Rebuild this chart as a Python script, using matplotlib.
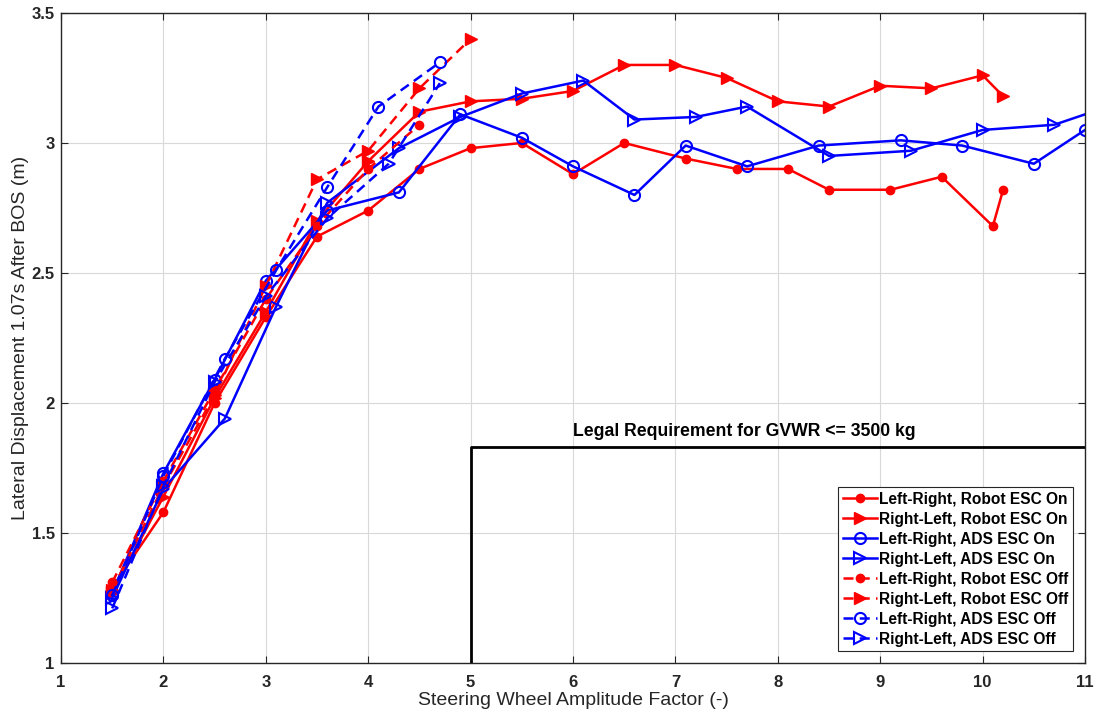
import matplotlib.pyplot as plt

plt.rcParams['font.family'] = ['Liberation Sans', 'DejaVu Sans']

# Left-Right, Robot ESC On
lr_robot_on_x = [1.5, 2.0, 2.5, 3.0, 3.5, 4.0, 4.5, 5.0, 5.5, 6.0, 6.5, 7.1, 7.6, 8.1, 8.5, 9.1, 9.6, 10.1, 10.2]
lr_robot_on_y = [1.29, 1.58, 2.00, 2.33, 2.64, 2.74, 2.90, 2.98, 3.00, 2.88, 3.00, 2.94, 2.90, 2.90, 2.82, 2.82, 2.87, 2.68, 2.82]

# Right-Left, Robot ESC On
rl_robot_on_x = [1.5, 2.0, 2.5, 3.0, 3.5, 4.0, 4.5, 5.0, 5.5, 6.0, 6.5, 7.0, 7.5, 8.0, 8.5, 9.0, 9.5, 10.0, 10.2]
rl_robot_on_y = [1.27, 1.64, 2.02, 2.35, 2.70, 2.93, 3.12, 3.16, 3.17, 3.20, 3.30, 3.30, 3.25, 3.16, 3.14, 3.22, 3.21, 3.26, 3.18]

# Left-Right, ADS ESC On
lr_ads_on_x = [1.5, 2.0, 2.5, 3.0, 3.6, 4.3, 4.9, 5.5, 6.0, 6.6, 7.1, 7.7, 8.4, 9.2, 9.8, 10.5, 11.0]
lr_ads_on_y = [1.27, 1.73, 2.09, 2.47, 2.74, 2.81, 3.11, 3.02, 2.91, 2.80, 2.99, 2.91, 2.99, 3.01, 2.99, 2.92, 3.05]

# Right-Left, ADS ESC On
rl_ads_on_x = [1.5, 2.0, 2.6, 3.1, 3.6, 4.3, 4.9, 5.5, 6.1, 6.6, 7.2, 7.7, 8.5, 9.3, 10.0, 10.7, 11.3]
rl_ads_on_y = [1.25, 1.67, 1.94, 2.37, 2.77, 2.98, 3.10, 3.19, 3.24, 3.09, 3.10, 3.14, 2.95, 2.97, 3.05, 3.07, 3.15]

# Left-Right, Robot ESC Off
lr_robot_off_x = [1.5, 2.0, 2.5, 3.0, 3.5, 4.0, 4.5]
lr_robot_off_y = [1.31, 1.70, 2.05, 2.40, 2.68, 2.90, 3.07]

# Right-Left, Robot ESC Off
rl_robot_off_x = [1.5, 2.0, 2.5, 3.0, 3.5, 4.0, 4.5, 5.0]
rl_robot_off_y = [1.28, 1.68, 2.03, 2.45, 2.86, 2.97, 3.21, 3.40]

# Left-Right, ADS ESC Off
lr_ads_off_x = [1.5, 2.0, 2.6, 3.1, 3.6, 4.1, 4.7]
lr_ads_off_y = [1.26, 1.72, 2.17, 2.51, 2.83, 3.14, 3.31]

# Right-Left, ADS ESC Off
rl_ads_off_x = [1.5, 2.0, 2.5, 3.0, 3.6, 4.2, 4.7]
rl_ads_off_y = [1.21, 1.68, 2.08, 2.41, 2.71, 2.92, 3.23]

# legal requirement boundary
legal_x = [5, 5, 11]
legal_y = [1, 1.83, 1.83]

fig = plt.figure(figsize=(10.99, 7.19), dpi=100)
ax = fig.add_axes([0.0555, 0.0779, 0.9318, 0.9041])

lw = 1.8
dash = (4, 2.5)
ax.plot(lr_robot_on_x, lr_robot_on_y, '-', color='red', lw=lw, marker='o', ms=6,
        label='Left-Right, Robot ESC On')
ax.plot(rl_robot_on_x, rl_robot_on_y, '-', color='red', lw=lw, marker='>', ms=8,
        label='Right-Left, Robot ESC On')
ax.plot(lr_ads_on_x, lr_ads_on_y, '-', color='blue', lw=lw, marker='o', ms=8, mfc='none',
        mew=1.5, label='Left-Right, ADS ESC On')
ax.plot(rl_ads_on_x, rl_ads_on_y, '-', color='blue', lw=lw, marker='>', ms=9, mfc='none',
        mew=1.5, label='Right-Left, ADS ESC On')
ax.plot(lr_robot_off_x, lr_robot_off_y, '--', dashes=dash, color='red', lw=lw, marker='o', ms=6,
        label='Left-Right, Robot ESC Off')
ax.plot(rl_robot_off_x, rl_robot_off_y, '--', dashes=dash, color='red', lw=lw, marker='>', ms=8,
        label='Right-Left, Robot ESC Off')
ax.plot(lr_ads_off_x, lr_ads_off_y, '--', dashes=dash, color='blue', lw=lw, marker='o', ms=8,
        mfc='none', mew=1.5, label='Left-Right, ADS ESC Off')
ax.plot(rl_ads_off_x, rl_ads_off_y, '--', dashes=dash, color='blue', lw=lw, marker='>', ms=9,
        mfc='none', mew=1.5, label='Right-Left, ADS ESC Off')

ax.plot(legal_x, legal_y, '-', color='black', lw=2, zorder=1)
ax.text(7.67, 1.89, 'Legal Requirement for GVWR <= 3500 kg', ha='center', va='center',
        fontsize=12.7, fontweight='bold')

ax.set_xlim(1, 11)
ax.set_ylim(1, 3.5)
ax.set_xticks(range(1, 12))
ax.set_yticks([1, 1.5, 2, 2.5, 3, 3.5])
ax.set_yticklabels(['1', '1.5', '2', '2.5', '3', '3.5'])
ax.grid(True, color='#d9d9d9', lw=0.8)
ax.set_axisbelow(True)
ax.tick_params(direction='in', top=True, right=True, labelsize=12, length=5, color='#262626')
ax.tick_params(axis='x', pad=9)
ax.tick_params(axis='y', pad=4.5)
for lab in ax.get_xticklabels() + ax.get_yticklabels():
    lab.set_fontweight('bold')
    lab.set_color('#262626')
for sp in ax.spines.values():
    sp.set_color('#262626')
    sp.set_linewidth(1)

ax.set_xlabel('Steering Wheel Amplitude Factor (-)', fontsize=14, color='#262626', labelpad=1)
ax.set_ylabel('Lateral Displacement 1.07s After BOS (m)', fontsize=14, color='#262626', labelpad=2)

leg = ax.legend(loc='lower right', prop={'weight': 'bold', 'size': 11.2},
                handlelength=2.2, handletextpad=0.15, borderaxespad=0.75, labelspacing=0.32,
                fancybox=False, framealpha=1, edgecolor='#262626', borderpad=0.3)
leg.get_frame().set_linewidth(0.8)

fig.savefig('out.png', dpi=100)
